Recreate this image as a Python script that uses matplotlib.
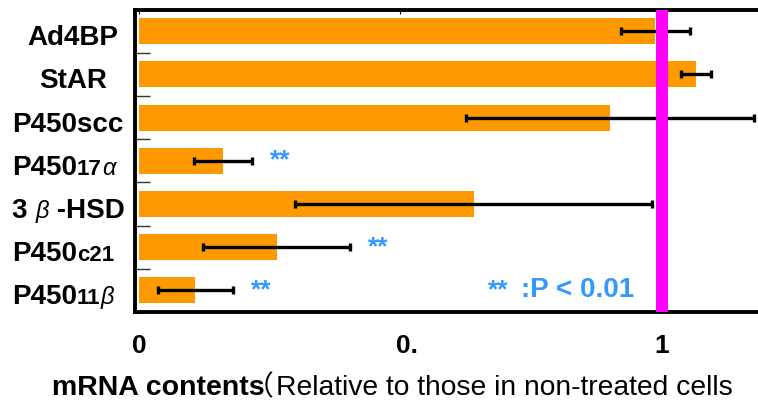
import matplotlib.pyplot as plt
import matplotlib.transforms as mtransforms
from matplotlib.offsetbox import TextArea, HPacker, AnnotationBbox

# gene labels split into pieces: b = bold, s = small bold, g = greek italic
label_parts = [
    [("Ad4BP", "b")],
    [("StAR", "b")],
    [("P450scc", "b")],
    [("P450", "b"), ("17", "s"), ("α", "g")],
    [("3 ", "b"), ("β", "g"), (" -HSD", "b")],
    [("P450", "b"), ("c21", "s")],
    [("P450", "b"), ("11", "s"), ("β", "g")],
]
means = [0.987, 1.065, 0.900, 0.161, 0.640, 0.263, 0.108]
errs = [0.066, 0.029, 0.275, 0.055, 0.341, 0.140, 0.071]
significant = [False, False, False, True, False, True, True]
xticks = [0, 0.5, 1]
xticklabels = ["0", "0.", "1"]

ORANGE = "#FF9900"
BLUE = "#3399FF"
MAGENTA = "#FF00FF"
FONT = ["Liberation Sans", "Noto Sans CJK JP", "DejaVu Sans"]
part_style = {
    "b": dict(fontsize=20, fontweight="bold"),
    "s": dict(fontsize=16, fontweight="bold"),
    "g": dict(fontsize=17, fontstyle="italic"),
}

plt.rcParams["font.family"] = FONT

fig = plt.figure(figsize=(7.58, 4.0), dpi=100)
ax = fig.add_axes([135 / 758, 88 / 400, 623 / 758, 302 / 400])

ypos = list(range(len(means)))
ax.barh(ypos, means, height=0.6, color=ORANGE, zorder=2)
ax.errorbar(means, ypos, xerr=errs, fmt="none", ecolor="black",
            elinewidth=2.4, capsize=3, capthick=2.4, zorder=3)
ax.axvline(1.0, color=MAGENTA, lw=8.6, zorder=4)

# significance stars
for y, m, e, s in zip(ypos, means, errs, significant):
    if s:
        ax.annotate("**", (m + e, y), xytext=(13, 0), textcoords="offset points",
                    ha="left", va="center", color=BLUE, fontsize=19,
                    fontweight="bold")

ax.set_xlim(-0.0076, 1.1835)
ax.set_ylim(6.5, -0.49)

for side in ["left", "top", "bottom"]:
    ax.spines[side].set_linewidth(2.8)
ax.spines["right"].set_visible(False)

ax.set_xticks(xticks)
ax.set_xticklabels(xticklabels, fontsize=19, fontweight="bold")
ax.tick_params(axis="x", bottom=False, top=True, direction="in", length=3,
               width=0.8, pad=16)
# the middle label sits a little right of its tick in the original
mid = ax.get_xticklabels()[1]
mid.set_transform(mid.get_transform() + mtransforms.ScaledTranslation(5 / 72, 0, fig.dpi_scale_trans))

ax.set_yticks([])
ax.set_yticks([i + 0.5 for i in ypos[:-1]], minor=True)
ax.tick_params(axis="y", which="minor", direction="in", length=11, width=1,
               color="#333333", labelleft=False)

# y labels made of mixed-size pieces
trans = mtransforms.blended_transform_factory(fig.transFigure, ax.transData)
for i, parts in enumerate(label_parts):
    areas = [TextArea(t, textprops=dict(family=FONT, color="black", **part_style[k]))
             for t, k in parts]
    box = HPacker(children=areas, align="baseline", pad=0, sep=0)
    if i < 2:
        xy, align = (73 / 758, i), (0.5, 0.5)
    else:
        xy, align = (12 / 758, i), (0.0, 0.5)
    ab = AnnotationBbox(box, xy, xycoords=trans, xybox=(0, -5),
                        boxcoords="offset points", box_alignment=align,
                        frameon=False, pad=0, annotation_clip=False)
    ax.add_artist(ab)

# p-value note
note = HPacker(children=[
    TextArea("**", textprops=dict(family=FONT, color=BLUE, fontsize=19, fontweight="bold")),
    TextArea(":P < 0.01", textprops=dict(family=FONT, color=BLUE, fontsize=20, fontweight="bold")),
], align="baseline", pad=0, sep=9)
ax.add_artist(AnnotationBbox(note, (488, 400 - 290), xycoords="figure pixels",
                             box_alignment=(0, 0.5), frameon=False, pad=0,
                             annotation_clip=False))

# x label: bold part, full-width bracket, regular part (runs to the right edge)
bold_part = HPacker(children=[
    TextArea("mRNA contents", textprops=dict(family=FONT, fontsize=20.5, fontweight="bold")),
], align="baseline", pad=0, sep=0)
paren_part = HPacker(children=[
    TextArea("（", textprops=dict(family=FONT, fontsize=20)),
    TextArea("Relative to those in non-treated cells", textprops=dict(family=FONT, fontsize=20.3)),
], align="baseline", pad=0, sep=2)
xlab = HPacker(children=[bold_part, paren_part], align="baseline", pad=0, sep=-14)
fig.add_artist(AnnotationBbox(xlab, (52, 400 - 388), xycoords="figure pixels",
                              box_alignment=(0, 0.5), frameon=False, pad=0,
                              annotation_clip=False))

fig.savefig("out.png", dpi=100)
